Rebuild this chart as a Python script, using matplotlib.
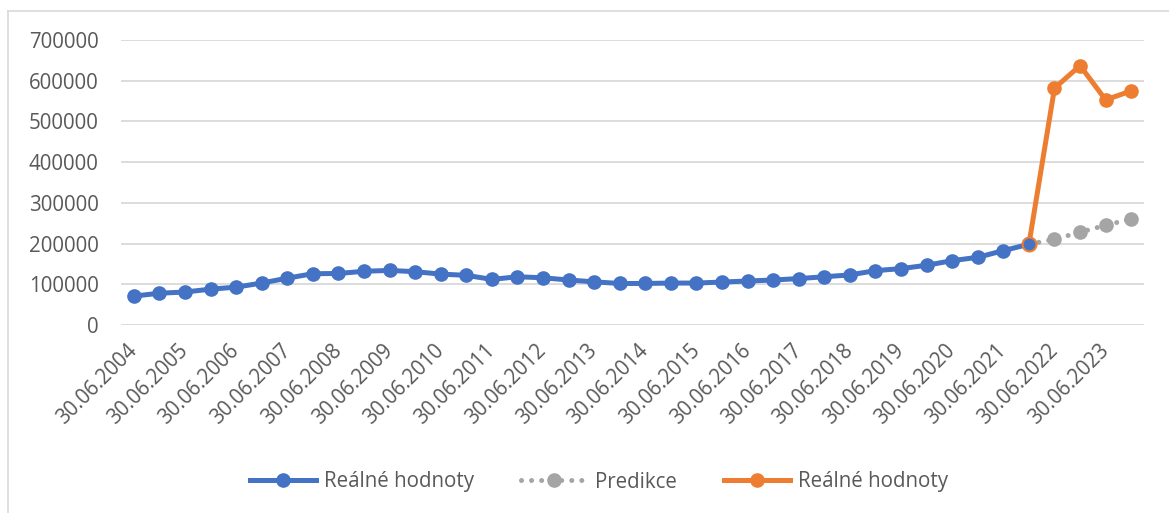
import matplotlib
matplotlib.use("Agg")
import matplotlib.pyplot as plt
from matplotlib.lines import Line2D
import numpy as np

plt.rcParams['font.family'] = ['Open Sans', 'DejaVu Sans']

# category labels (half-year dates), only every second one is shown on the axis
years = list(range(2004, 2024))
dates = []
for y in years:
    dates.append("30.06.%d" % y)
    dates.append("31.12.%d" % y)

# real values (blue), indices 0..35
real_values = [71000, 78000, 81000, 88000, 93000, 103000, 115000, 126000, 126500, 132000,
               134000, 131000, 125000, 122000, 112000, 118500, 116000, 110500, 106000, 102000,
               102000, 103000, 103000, 105500, 108000, 110500, 114000, 118500, 123000, 133500,
               138500, 146700, 158000, 166300, 182600, 198300]
# prediction (gray dotted), indices 35..39
prediction = [198300, 210600, 227800, 245000, 260500]
# real values after the jump (orange), indices 35..39
real_values_2 = [198300, 581600, 637000, 553000, 575000]

blue = '#4472C4'
gray = '#A5A5A5'
orange = '#ED7D31'
text_color = '#595959'

fig = plt.figure(figsize=(11.69, 5.13), dpi=100)
ax = fig.add_axes([121 / 1169, 1 - 325 / 513, 1023 / 1169, 285 / 513])

x_real = np.arange(len(real_values))
start = len(real_values) - 1
x_pred = np.arange(start, start + len(prediction))
x_real2 = np.arange(start, start + len(real_values_2))

dot_style = (0, (0.01, 2.0))

ax.plot(x_real, real_values, color=blue, lw=3.6, marker='o', markersize=9.5, zorder=3,
        solid_capstyle='round')
ax.plot(x_pred, prediction, color=gray, lw=3.6, linestyle=dot_style,
        dash_capstyle='round', marker='o', markersize=9.5, markevery=list(range(1, len(prediction))),
        zorder=2)
ax.plot(x_real2, real_values_2, color=orange, lw=3.6, marker='o', markersize=9.5,
        markevery=list(range(1, len(real_values_2))), zorder=4, solid_capstyle='round')
# joint point: blue marker with orange edge
ax.plot([x_real2[0]], [real_values_2[0]], marker='o', markersize=10, markerfacecolor=blue,
        markeredgecolor=orange, markeredgewidth=1.5, linestyle='none', zorder=5)

ax.set_xlim(-0.5, len(dates) - 0.5)
ax.set_ylim(0, 700000)
ax.set_yticks(np.arange(0, 700001, 100000))
ax.set_yticklabels([str(v) for v in range(0, 700001, 100000)])
ax.set_xticks(np.arange(0, len(dates), 2))
ax.set_xticklabels(dates[::2], rotation=45, ha='right', va='center', rotation_mode='anchor')

ax.grid(axis='y', color='#D9D9D9', lw=1.3)
ax.set_axisbelow(True)
for s in ax.spines.values():
    s.set_visible(False)
ax.tick_params(axis='y', length=0, pad=16, labelsize=14.8, labelcolor=text_color)
ax.tick_params(axis='x', length=0, pad=16, labelsize=14.8, labelcolor=text_color)

# legend
handles = [
    Line2D([], [], color=blue, lw=3.6, marker='o', markersize=9.5),
    Line2D([], [], color=gray, lw=3.6, linestyle=dot_style, dash_capstyle='round',
           marker='o', markersize=9.5),
    Line2D([], [], color=orange, lw=3.6, marker='o', markersize=9.5),
]
fig.legend(handles, ['Reálné hodnoty', 'Predikce', 'Reálné hodnoty'], loc='center',
           bbox_to_anchor=(599 / 1169, 1 - 482 / 513), ncol=3, frameon=False,
           fontsize=14.8, labelcolor=text_color, handlelength=3.2, handletextpad=0.4,
           columnspacing=2.3)

# chart area border (top and left visible)
fig.add_artist(Line2D([8 / 1169, 1], [1 - 11 / 513, 1 - 11 / 513], color='#D9D9D9', lw=1.2))
fig.add_artist(Line2D([8 / 1169, 8 / 1169], [0, 1 - 11 / 513], color='#D9D9D9', lw=1.2))

fig.savefig('out.png', dpi=100)
